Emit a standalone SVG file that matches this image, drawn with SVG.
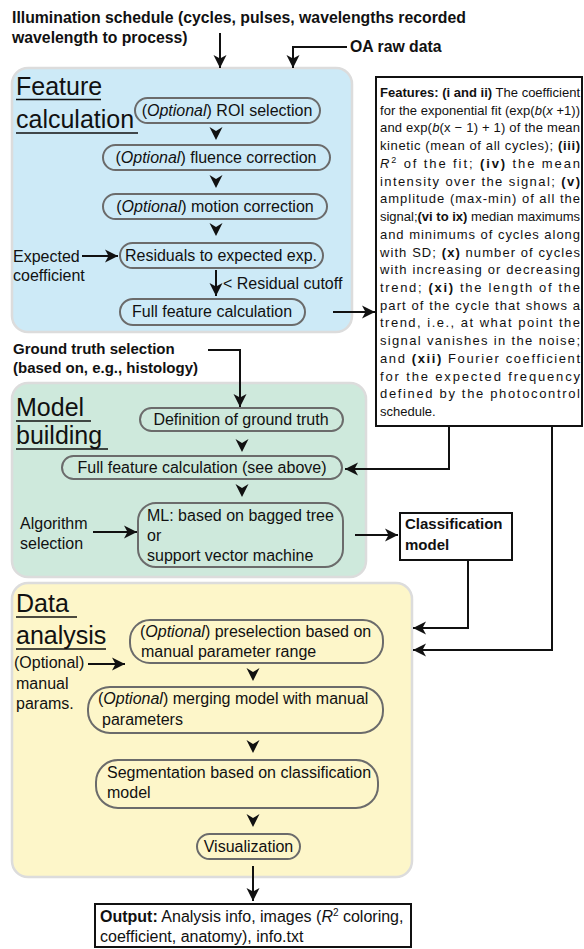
<svg xmlns="http://www.w3.org/2000/svg" width="584" height="949" viewBox="0 0 584 949">
<defs>
<style>
text{font-family:"Liberation Sans",Arial,sans-serif;fill:#111}
.b{font-weight:bold}
.i{font-style:italic}
.hd{font-size:15px;font-weight:bold}
.top{font-size:15.8px;font-weight:bold}
.ttl{font-size:25px}
.pt{font-size:16px}
.lb{font-size:16px}
.ft{font-size:13px}
.pill{fill:none;stroke:#6b6b6b;stroke-width:2}
.panel{stroke:#dcdcdc;stroke-width:2.5}
.ul{stroke:#111;stroke-width:1.5}
.con{fill:none;stroke:#111;stroke-width:2}
.box{fill:#fff;stroke:#111;stroke-width:2}
.ah{fill:#111}
</style>
<marker id="arr" markerUnits="userSpaceOnUse" markerWidth="14" markerHeight="14" refX="13" refY="7" orient="auto">
<path d="M0,0.5 L13,7 L0,13.5 L3.5,7 Z" fill="#111"/>
</marker>
</defs>

<g id="inputs">
<text class="top" x="12" y="23">Illumination schedule (cycles, pulses, wavelengths recorded</text>
<text class="top" x="12" y="43">wavelength to process)</text>
<text class="top" x="350" y="52">OA raw data</text>
</g>

<g id="panel-feature">
<rect class="panel" x="12" y="68" width="340" height="264" rx="16" fill="#cdeaf7"/>
<text class="ttl" x="16" y="95">Feature</text>
<line class="ul" x1="16" y1="99.5" x2="101" y2="99.5"/>
<text class="ttl" x="16" y="128">calculation</text>
<line class="ul" x1="16" y1="133" x2="138" y2="133"/>
</g>
<g id="roi">
<rect class="pill" x="135" y="98" width="185" height="25" rx="12.5"/>
<text class="pt" x="227" y="116" text-anchor="middle">(<tspan class="i">Optional</tspan>) ROI selection</text>
</g>
<g id="fluence">
<rect class="pill" x="103" y="145" width="227" height="25" rx="12.5"/>
<text class="pt" x="216" y="163" text-anchor="middle">(<tspan class="i">Optional</tspan>) fluence correction</text>
</g>
<g id="motion">
<rect class="pill" x="103" y="194" width="224" height="25" rx="12.5"/>
<text class="pt" x="215" y="212" text-anchor="middle">(<tspan class="i">Optional</tspan>) motion correction</text>
</g>
<g id="residuals">
<rect class="pill" x="120" y="243" width="203" height="25" rx="12.5"/>
<text class="pt" x="221" y="261" text-anchor="middle">Residuals to expected exp.</text>
</g>
<g id="full-feature">
<rect class="pill" x="120" y="299" width="185" height="26" rx="13"/>
<text class="pt" x="212" y="317" text-anchor="middle">Full feature calculation</text>
</g>
<g id="expected-label">
<text class="lb" x="13" y="262">Expected</text>
<text class="lb" x="13" y="281">coefficient</text>
</g>
<g id="cutoff-label">
<text class="lb" x="223" y="289">&lt; Residual cutoff</text>
</g>

<g id="features-box">
<rect class="box" x="376" y="77" width="206" height="349"/>
<g class="ft">
<text x="380" y="97" textLength="200" lengthAdjust="spacing"><tspan class="b">Features: (i and ii)</tspan> The coefficient</text>
<text x="380" y="114.7" textLength="200" lengthAdjust="spacing">for the exponential fit (exp(<tspan class="i">b</tspan>(<tspan class="i">x</tspan> +1))</text>
<text x="380" y="132.4" textLength="200" lengthAdjust="spacing">and  exp(<tspan class="i">b</tspan>(x − 1) + 1)  of  the  mean</text>
<text x="380" y="150.2" textLength="200" lengthAdjust="spacing">kinetic (mean of all cycles); <tspan class="b">(iii)</tspan></text>
<text x="380" y="167.9" textLength="200" lengthAdjust="spacing"><tspan class="i">R</tspan><tspan font-size="9" dy="-5">2</tspan><tspan dy="5">  of  the  fit;  </tspan><tspan class="b">(iv)</tspan>  the  mean</text>
<text x="380" y="185.6" textLength="200" lengthAdjust="spacing">intensity  over  the  signal;  <tspan class="b">(v)</tspan></text>
<text x="380" y="203.3" textLength="200" lengthAdjust="spacing">amplitude (max-min) of all the</text>
<text x="380" y="221" textLength="200" lengthAdjust="spacing">signal;<tspan class="b">(vi to ix)</tspan> median maximums</text>
<text x="380" y="238.8" textLength="200" lengthAdjust="spacing">and minimums of cycles along</text>
<text x="380" y="256.5" textLength="200" lengthAdjust="spacing">with SD;  <tspan class="b">(x)</tspan>  number of cycles</text>
<text x="380" y="274.2" textLength="200" lengthAdjust="spacing">with  increasing or decreasing</text>
<text x="380" y="291.9" textLength="200" lengthAdjust="spacing">trend;  <tspan class="b">(xi)</tspan>  the length of the</text>
<text x="380" y="309.6" textLength="200" lengthAdjust="spacing">part of the cycle that shows a</text>
<text x="380" y="327.4" textLength="200" lengthAdjust="spacing">trend,  i.e.,  at  what point the</text>
<text x="380" y="345.1" textLength="200" lengthAdjust="spacing">signal  vanishes  in  the  noise;</text>
<text x="380" y="362.8" textLength="200" lengthAdjust="spacing">and  <tspan class="b">(xii)</tspan>  Fourier coefficient</text>
<text x="380" y="380.5" textLength="200" lengthAdjust="spacing">for  the  expected  frequency</text>
<text x="380" y="398.2" textLength="200" lengthAdjust="spacing">defined  by  the  photocontrol</text>
<text x="380" y="416">schedule.</text>
</g>
</g>

<g id="ground-truth-label">
<text class="hd" x="13" y="354">Ground truth selection</text>
<text class="hd" x="13" y="373">(based on, e.g., histology)</text>
</g>

<g id="panel-model">
<rect class="panel" x="12" y="383" width="354" height="194" rx="16" fill="#cee9dc"/>
<text class="ttl" x="16" y="416">Model</text>
<line class="ul" x1="16" y1="421" x2="91" y2="421"/>
<text class="ttl" x="16" y="444">building</text>
<line class="ul" x1="16" y1="449" x2="108" y2="449"/>
</g>
<g id="definition">
<rect class="pill" x="140" y="408" width="203" height="23" rx="11.5"/>
<text class="pt" x="241" y="425" text-anchor="middle">Definition of ground truth</text>
</g>
<g id="full-feature-2">
<rect class="pill" x="62" y="456" width="280" height="23" rx="11.5"/>
<text class="pt" x="202" y="473" text-anchor="middle">Full feature calculation (see above)</text>
</g>
<g id="ml">
<rect class="pill" x="138" y="503" width="205" height="64" rx="18"/>
<text class="pt" x="147" y="521">ML: based on bagged tree</text>
<text class="pt" x="147" y="541">or</text>
<text class="pt" x="147" y="561">support vector machine</text>
</g>
<g id="algorithm-label">
<text class="lb" x="20" y="529">Algorithm</text>
<text class="lb" x="20" y="549">selection</text>
</g>
<g id="classification-model">
<rect class="box" x="400" y="513" width="112" height="47"/>
<text class="hd" x="405" y="529">Classification</text>
<text class="hd" x="405" y="550">model</text>
</g>

<g id="panel-data">
<rect class="panel" x="12" y="583" width="400" height="294" rx="16" fill="#fdf6c9"/>
<text class="ttl" x="16" y="612">Data </text>
<line class="ul" x1="16" y1="617" x2="77" y2="617"/>
<text class="ttl" x="16" y="644">analysis</text>
<line class="ul" x1="16" y1="649" x2="106" y2="649"/>
</g>
<g id="manual-label">
<text class="lb" x="14" y="668">(Optional)</text>
<text class="lb" x="16" y="689">manual</text>
<text class="lb" x="16" y="709">params.</text>
</g>
<g id="preselection">
<rect class="pill" x="130" y="620" width="253" height="43" rx="20"/>
<text class="pt" x="140" y="637">(<tspan class="i">Optional</tspan>) preselection based on</text>
<text class="pt" x="141" y="657">manual parameter range</text>
</g>
<g id="merging">
<rect class="pill" x="88" y="687" width="295" height="46" rx="22"/>
<text class="pt" x="98" y="704">(<tspan class="i">Optional</tspan>) merging model with manual</text>
<text class="pt" x="102" y="725">parameters</text>
</g>
<g id="segmentation">
<rect class="pill" x="96" y="760" width="282" height="48" rx="22"/>
<text class="pt" x="107" y="778">Segmentation based on classification</text>
<text class="pt" x="107" y="798">model</text>
</g>
<g id="visualization">
<rect class="pill" x="197" y="834" width="103" height="25" rx="12.5"/>
<text class="pt" x="248.5" y="852" text-anchor="middle">Visualization</text>
</g>

<g id="output">
<rect class="box" x="95" y="904" width="316" height="43"/>
<text class="pt" x="100" y="922"><tspan class="b">Output:</tspan> Analysis info, images (<tspan class="i">R</tspan><tspan font-size="10" dy="-6">2</tspan><tspan dy="6"> coloring,</tspan></text>
<text class="pt" x="100" y="942">coefficient, anatomy), info.txt</text>
</g>

<g id="connectors">
<line class="con" x1="220" y1="33" x2="220" y2="68" marker-end="url(#arr)"/>
<path class="con" d="M347,47 H293 V68" marker-end="url(#arr)"/>
<path class="ah" d="M209.5,127 L216,131 L222.5,127 L216,140 Z"/>
<path class="ah" d="M209.5,175 L216,179 L222.5,175 L216,188 Z"/>
<path class="ah" d="M209.5,223 L216,227 L222.5,223 L216,236 Z"/>
<line class="con" x1="82" y1="256" x2="118" y2="256" marker-end="url(#arr)"/>
<line class="con" x1="216" y1="270" x2="216" y2="296" marker-end="url(#arr)"/>
<line class="con" x1="333" y1="312" x2="375" y2="312" marker-end="url(#arr)"/>
<path class="con" d="M208,350 H240 V407" marker-end="url(#arr)"/>
<path class="ah" d="M235.5,439 L242,443 L248.5,439 L242,452 Z"/>
<path class="ah" d="M235.5,484 L242,488 L248.5,484 L242,497 Z"/>
<path class="con" d="M449,426 V469 H345" marker-end="url(#arr)"/>
<line class="con" x1="93" y1="532" x2="137" y2="532" marker-end="url(#arr)"/>
<line class="con" x1="355" y1="535" x2="398" y2="535" marker-end="url(#arr)"/>
<path class="con" d="M468,560 V628 H413" marker-end="url(#arr)"/>
<path class="con" d="M552,426 V650 H413" marker-end="url(#arr)"/>
<line class="con" x1="88" y1="664" x2="125" y2="664" marker-end="url(#arr)"/>
<path class="ah" d="M246.5,668 L253,672 L259.5,668 L253,681 Z"/>
<path class="ah" d="M246.5,740 L253,744 L259.5,740 L253,753 Z"/>
<path class="ah" d="M246.5,814 L253,818 L259.5,814 L253,827 Z"/>
<line class="con" x1="253" y1="866" x2="253" y2="901" marker-end="url(#arr)"/>
</g>
</svg>
